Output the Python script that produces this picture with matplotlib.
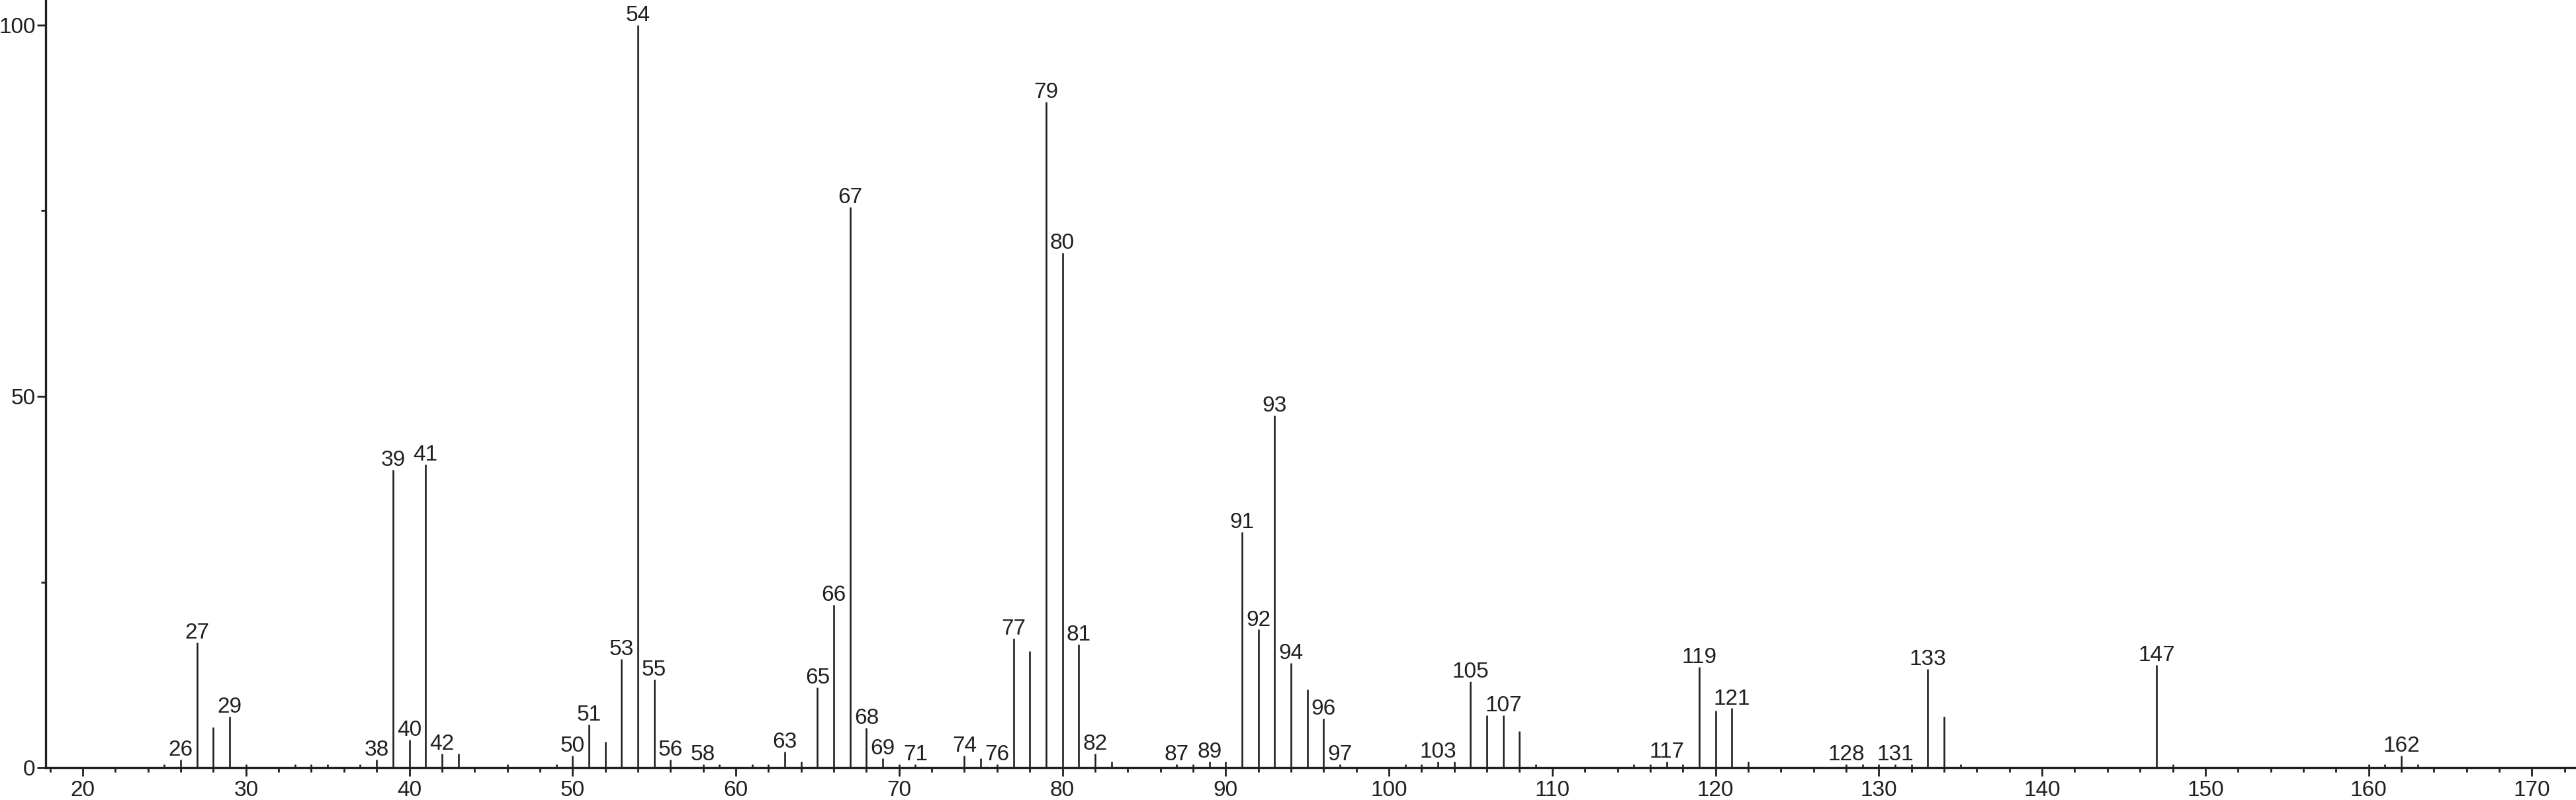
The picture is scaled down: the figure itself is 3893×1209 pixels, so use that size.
import matplotlib
matplotlib.use("Agg")
import matplotlib.pyplot as plt
from matplotlib.ticker import MultipleLocator, FixedLocator

plt.rcParams["font.family"] = ["Liberation Sans", "DejaVu Sans"]

# m/z and relative abundance (%)
mz = [25, 26, 27, 28, 29, 30, 33, 34, 35, 37, 38, 39, 40, 41, 42, 43, 46, 49,
      50, 51, 52, 53, 54, 55, 56, 58, 59, 61, 62, 63, 64, 65, 66, 67, 68, 69,
      70, 71, 74, 75, 76, 77, 78, 79, 80, 81, 82, 83, 87, 88, 89, 90, 91, 92,
      93, 94, 95, 96, 97, 101, 102, 103, 104, 105, 106, 107, 108, 109, 115,
      116, 117, 118, 119, 120, 121, 122, 128, 129, 130, 131, 132, 133, 134,
      135, 147, 148, 160, 161, 162, 163]
abundance = [0.5, 1.1, 16.9, 5.5, 6.9, 0.5, 0.5, 0.5, 0.5, 0.5, 1.1, 40.1, 3.8,
             40.8, 1.9, 1.9, 0.5, 0.5, 1.6, 5.8, 3.5, 14.6, 100.0, 11.9, 1.1,
             0.5, 0.5, 0.5, 0.5, 2.2, 0.8, 10.8, 21.9, 75.5, 5.4, 1.3, 0.5, 0.5,
             1.6, 1.3, 0.5, 17.4, 15.7, 89.6, 69.3, 16.6, 1.9, 0.8, 0.5, 0.5,
             0.8, 0.8, 31.7, 18.6, 47.4, 14.1, 10.5, 6.6, 0.5, 0.5, 0.5, 0.8,
             0.8, 11.6, 7.1, 7.1, 4.9, 0.5, 0.5, 0.5, 0.8, 0.5, 13.6, 7.7, 8.0,
             0.8, 0.5, 0.5, 0.5, 0.5, 0.5, 13.3, 6.9, 0.5, 13.8, 0.5, 0.5, 0.5,
             1.6, 0.5]

# peaks that carry an m/z label
labeled = [26, 27, 29, 38, 39, 40, 41, 42, 50, 51, 53, 54, 55, 56, 58, 63, 65,
           66, 67, 68, 69, 71, 74, 76, 77, 79, 80, 81, 82, 87, 89, 91, 92, 93,
           94, 96, 97, 103, 105, 107, 117, 119, 121, 128, 131, 133, 147, 162]

x_major = list(range(20, 171, 10))
y_major = [0, 50, 100]
y_minor = [25, 75]

ink = "#231f20"

fig = plt.figure(figsize=(38.93, 12.09), dpi=100)
ax = fig.add_axes([0.01772, 0.0403, 1 - 0.01772, 1 - 0.0403])

ax.vlines(mz, 0, abundance, color=ink, linewidth=1.9)

heights = dict(zip(mz, abundance))
for m in labeled:
    ax.annotate(str(m), xy=(m, heights[m]), xytext=(0, 4.3),
                textcoords="offset points", ha="center", va="baseline",
                fontsize=24, color=ink, annotation_clip=False)

ax.set_xlim(17.73, 172.7)
ax.set_ylim(0, 103.36)

ax.xaxis.set_major_locator(FixedLocator(x_major))
ax.xaxis.set_minor_locator(MultipleLocator(2))
ax.yaxis.set_major_locator(FixedLocator(y_major))
ax.yaxis.set_minor_locator(FixedLocator(y_minor))

for side in ("top", "right"):
    ax.spines[side].set_visible(False)
for side in ("left", "bottom"):
    ax.spines[side].set_linewidth(2.4)
    ax.spines[side].set_color(ink)

ax.tick_params(axis="both", which="major", direction="out", length=9.4,
               width=2.0, color=ink, labelsize=24, labelcolor=ink)
ax.tick_params(axis="both", which="minor", direction="out", length=5,
               width=2.0, color=ink)
ax.tick_params(axis="x", which="major", pad=4)
ax.tick_params(axis="y", which="major", pad=1.7)

fig.savefig("out.png", dpi=100)
